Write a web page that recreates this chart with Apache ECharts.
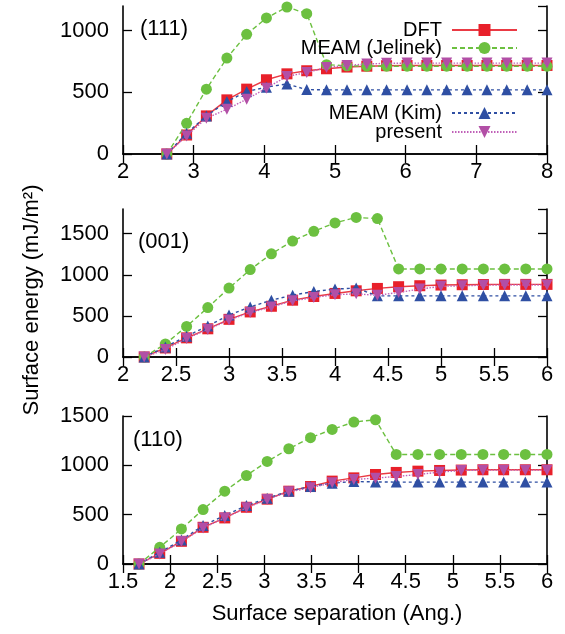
<!DOCTYPE html>
<html><head><meta charset="utf-8">
<script src="https://cdn.jsdelivr.net/npm/echarts@6/dist/echarts.min.js"></script>
<style>html,body{margin:0;padding:0;background:#fff}#c{width:565px;height:634px}</style>
</head><body><div id="c"></div>
<script>
// ---- data: (111)
const x111 = [2.62, 2.90, 3.18, 3.47, 3.75, 4.03, 4.32, 4.60, 4.88, 5.17, 5.45, 5.73, 6.02, 6.30, 6.58, 6.87, 7.15, 7.43, 7.72, 8.00];
const dft111 = [0, 154, 309, 439, 526, 602, 650, 675, 691, 705, 712, 716, 718, 718, 718, 718, 718, 718, 718, 718];
const jel111 = [0, 249, 526, 778, 970, 1103, 1192, 1138, 724, 715, 712, 712, 712, 712, 712, 712, 712, 712, 712, 712];
const kim111 = [0, 168, 309, 425, 507, 542, 568, 522, 520, 520, 520, 520, 520, 520, 520, 520, 520, 520, 520, 520];
const pres111 = [0, 146, 290, 363, 444, 534, 629, 661, 702, 718, 730, 735, 737, 737, 737, 737, 737, 737, 737, 737];
// ---- data: (001)
const x001 = [2.2, 2.4, 2.6, 2.8, 3.0, 3.2, 3.4, 3.6, 3.8, 4.0, 4.2, 4.4, 4.6, 4.8, 5.0, 5.2, 5.4, 5.6, 5.8, 6.0];
const dft001 = [0, 110, 233, 343, 458, 548, 617, 691, 736, 773, 805, 834, 855, 867, 875, 879, 882, 883, 883, 883];
const jel001 = [0, 159, 372, 601, 838, 1063, 1255, 1410, 1529, 1631, 1697, 1684, 1071, 1071, 1071, 1071, 1071, 1071, 1071, 1071];
const kim001 = [0, 123, 253, 376, 511, 609, 691, 752, 797, 826, 838, 744, 744, 744, 744, 744, 744, 744, 744, 744];
const pres001 = [0, 90, 225, 335, 450, 540, 609, 683, 724, 757, 768, 750, 785, 826, 859, 867, 873, 875, 875, 875];
// ---- data: (110)
const x110 = [1.67, 1.89, 2.12, 2.35, 2.58, 2.81, 3.03, 3.26, 3.49, 3.72, 3.95, 4.18, 4.40, 4.63, 4.86, 5.09, 5.32, 5.54, 5.77, 6.00];
const dft110 = [0, 108, 230, 372, 467, 575, 657, 738, 785, 840, 873, 907, 928, 941, 948, 952, 955, 955, 955, 955];
const jel110 = [0, 169, 355, 552, 738, 897, 1039, 1168, 1280, 1364, 1439, 1462, 1110, 1110, 1110, 1110, 1110, 1110, 1110, 1110];
const kim110 = [0, 118, 244, 389, 491, 592, 667, 738, 785, 819, 836, 832, 830, 830, 830, 830, 830, 830, 830, 830];
const pres110 = [0, 102, 227, 365, 467, 569, 653, 731, 772, 823, 857, 870, 887, 907, 931, 948, 951, 951, 951, 951];

const seriesNames = ['DFT', 'MEAM (Jelinek)', 'MEAM (Kim)', 'present'];
const panelLabels = ['(111)', '(001)', '(110)'];
const xTitle = 'Surface separation (Ang.)';
const yTitle = 'Surface energy (mJ/m²)';

const FONT = 'Liberation Sans, Arial, Helvetica, sans-serif';
const styles = [
  {color: '#e8202a', lineColor: '#ea3a44', symbol: 'rect', size: 11, type: 'solid'},
  {color: '#6cc040', lineColor: '#6cc040', symbol: 'circle', size: 11, type: [5, 3]},
  {color: '#2f4fa3', lineColor: '#2f4fa3', symbol: 'triangle', size: 11, type: [3, 3]},
  {color: '#b24fa6', lineColor: '#c060b8', symbol: 'path://M0,0 L10,0 L5,9 Z', size: 11, type: [1.5, 1.5]}
];

const panels = [
  {x: x111, ys: [dft111, jel111, kim111, pres111], xmin: 2, xmax: 8, xint: 1, ymax: 1200},
  {x: x001, ys: [dft001, jel001, kim001, pres001], xmin: 2, xmax: 6, xint: 0.5, ymax: 1800},
  {x: x110, ys: [dft110, jel110, kim110, pres110], xmin: 1.5, xmax: 6, xint: 0.5, ymax: 1500}
];
const gridTops = [6, 209, 416];
const gridH = 148;
const plain = v => String(v);

const grid = [], xAxis = [], yAxis = [], series = [];
panels.forEach((p, i) => {
  grid.push({left: 123, right: 18, top: gridTops[i], height: gridH, containLabel: false});
  const axLine = {show: true, lineStyle: {color: '#000', width: 1.6}};
  const tick = {show: true, inside: true, length: 9, lineStyle: {color: '#000', width: 1.3}};
  xAxis.push({type: 'value', gridIndex: i, min: p.xmin, max: p.xmax, interval: p.xint, position: 'bottom',
    axisLine: axLine, axisTick: tick, splitLine: {show: false},
    axisLabel: {color: '#000', fontSize: 22, fontFamily: FONT, margin: 7, formatter: plain}});
  xAxis.push({type: 'value', gridIndex: i, min: p.xmin, max: p.xmax, interval: p.xint, position: 'top',
    axisLine: axLine, axisTick: tick, splitLine: {show: false}, axisLabel: {show: false}});
  yAxis.push({type: 'value', gridIndex: i, min: 0, max: p.ymax, interval: 500, position: 'left',
    axisLine: axLine, axisTick: tick, splitLine: {show: false},
    axisLabel: {color: '#000', fontSize: 22, fontFamily: FONT, margin: 14, formatter: plain, showMaxLabel: p.ymax % 500 === 0}});
  yAxis.push({type: 'value', gridIndex: i, min: 0, max: p.ymax, interval: 500, position: 'right',
    axisLine: axLine, axisTick: tick, splitLine: {show: false}, axisLabel: {show: false}});
  p.ys.forEach((ys, k) => {
    const st = styles[k];
    series.push({
      name: seriesNames[k], type: 'line', xAxisIndex: 2 * i, yAxisIndex: 2 * i,
      data: p.x.map((xv, j) => [xv, ys[j]]),
      symbol: st.symbol, symbolSize: st.size, showAllSymbol: true,
      itemStyle: {color: st.color},
      lineStyle: {color: st.lineColor, width: 1.4, type: st.type},
      z: 2 + k, animation: false
    });
  });
});

const legendTops = [20, 38, 103, 122];
const legend = seriesNames.map((n, k) => ({
  data: [n], right: 47, top: legendTops[k], align: 'right', orient: 'vertical', padding: 0,
  itemWidth: 65, itemHeight: 15, selectedMode: false,
  textStyle: {fontSize: 20, fontFamily: FONT, color: '#000', lineHeight: 20, padding: [0, 5, 0, 0]}
}));

const graphic = [
  {type: 'text', left: 140, top: 18, style: {text: panelLabels[0], font: '22px ' + FONT, fill: '#000'}},
  {type: 'text', left: 138, top: 231, style: {text: panelLabels[1], font: '22px ' + FONT, fill: '#000'}},
  {type: 'text', left: 133, top: 429, style: {text: panelLabels[2], font: '22px ' + FONT, fill: '#000'}},
  {type: 'text', x: 337, y: 614, style: {text: xTitle, font: '22px ' + FONT, fill: '#000', textAlign: 'center', textVerticalAlign: 'middle'}},
  {type: 'text', x: 32, y: 300, rotation: Math.PI / 2, style: {text: yTitle, font: '22px ' + FONT, fill: '#000', textAlign: 'center', textVerticalAlign: 'middle'}}
];

const chart = echarts.init(document.getElementById('c'), null, {renderer: 'canvas'});
chart.setOption({animation: false, backgroundColor: '#fff', grid, xAxis, yAxis, series, legend, graphic});
</script>
</body></html>
